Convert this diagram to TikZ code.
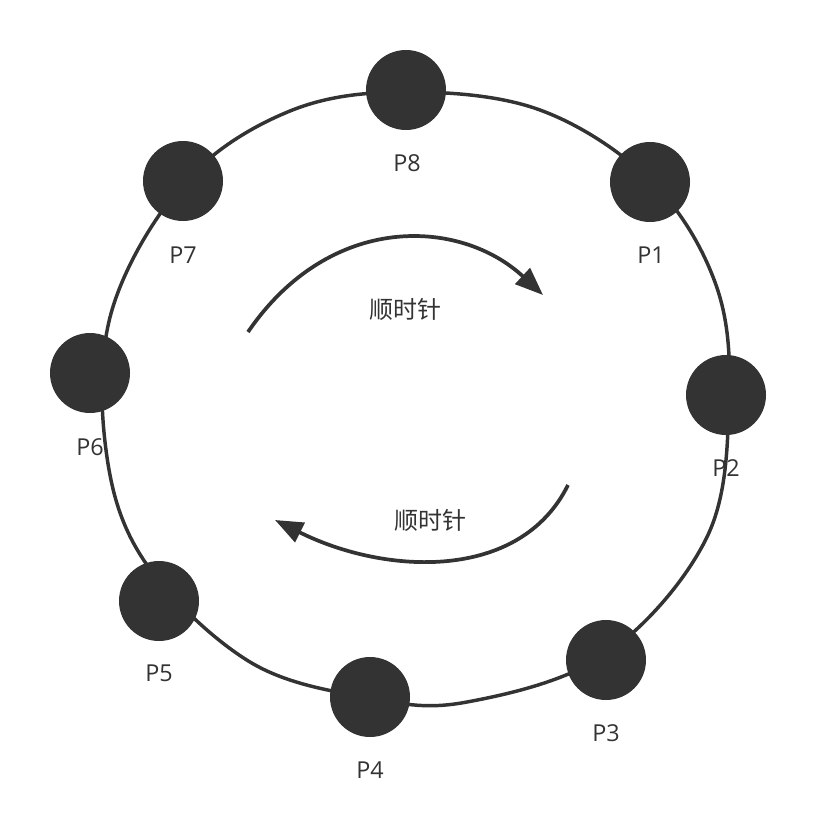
\documentclass[tikz,border=0pt]{standalone}
\usepackage{fontspec}
\setmainfont{Open Sans}
\newfontfamily\cjk{Noto Sans CJK SC}
\usetikzlibrary{arrows.meta}
\definecolor{ink}{HTML}{333333}
\begin{document}
\begin{tikzpicture}[x=0.75pt,y=-0.75pt,
  dot/.style={circle,fill=ink,draw=none,minimum size=60pt,inner sep=0pt},
  lbl/.style={text=ink,font=\fontsize{17.5}{19}\selectfont,inner sep=0pt},
  cjklbl/.style={text=ink,font=\cjk\fontsize{18}{20}\selectfont,inner sep=0pt},
  ring/.style={draw=ink,line width=2.6pt},
  turn/.style={draw=ink,line width=2.8pt,-{Triangle[length=21pt,width=16pt]}}]
\useasboundingbox (0,0) rectangle (816,813);
% ring
\draw[ring] plot[smooth cycle,tension=0.6] coordinates {
 (406,92) (540,110) (652,182) (716,285) (729,400) (707,537) (606,654)
 (467,702) (370,698) (250,662) (145,562) (106,450) (112,310) (185,182) (290,111)};
% dots
\node[dot] (p8) at (406,90) {};
\node[dot] (p1) at (650,182) {};
\node[dot] (p2) at (726,395) {};
\node[dot] (p3) at (606,660) {};
\node[dot] (p4) at (370,697) {};
\node[dot] (p5) at (159,601) {};
\node[dot] (p6) at (90,373) {};
\node[dot] (p7) at (183,181) {};
% labels
\node[lbl] (l8) at (407,163) {P8};
\node[lbl] (l1) at (651,255) {P1};
\node[lbl] (l2) at (726,468) {P2};
\node[lbl] (l3) at (606,733) {P3};
\node[lbl] (l4) at (370,770) {P4};
\node[lbl] (l5) at (159,673) {P5};
\node[lbl] (l6) at (90,447) {P6};
\node[lbl] (l7) at (183,255) {P7};
% arrows
\coordinate (a1s) at (248,332);
\coordinate (a1e) at (543,295);
\draw[turn] (a1s) .. controls (330,212) and (460,218) .. (a1e);
\node[cjklbl] (t1) at (405,309) {顺时针};
\coordinate (a2s) at (568,485);
\coordinate (a2e) at (275,520);
\draw[turn] (a2s) .. controls (520,582) and (385,575) .. (a2e);
\node[cjklbl] (t2) at (430,520) {顺时针};
\end{tikzpicture}
\end{document}
